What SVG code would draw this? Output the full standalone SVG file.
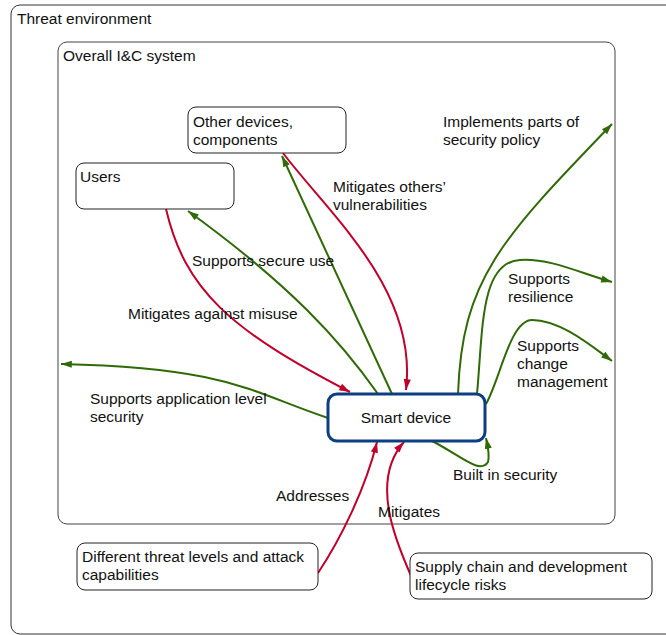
<svg xmlns="http://www.w3.org/2000/svg" width="666" height="635" viewBox="0 0 666 635">
<style>
text{font-family:"Liberation Sans",Arial,sans-serif;font-size:15.5px;fill:#111}
.box{fill:#fff;stroke:#222;stroke-width:1}
.g{fill:none;stroke:#2f6a06;stroke-width:2}
.r{fill:none;stroke:#c0002b;stroke-width:2}
</style>
<defs>
<marker id="ag" viewBox="0 0 10 10" refX="9" refY="5" markerWidth="9" markerHeight="9" markerUnits="userSpaceOnUse" orient="auto" overflow="visible"><path d="M0,1 L12,5 L0,9 z" fill="#2f6a06" transform="translate(-3,0)"/></marker>
<marker id="ar" viewBox="0 0 10 10" refX="9" refY="5" markerWidth="9" markerHeight="9" markerUnits="userSpaceOnUse" orient="auto" overflow="visible"><path d="M0,1 L12,5 L0,9 z" fill="#c0002b" transform="translate(-3,0)"/></marker>
</defs>
<g id="threat-environment">
<rect x="11" y="5" width="680" height="629" rx="9" fill="#fff" stroke="#333" stroke-width="1"/>
<text x="17" y="24">Threat environment</text>
</g>
<g id="overall-ic-system">
<rect x="58" y="42" width="557" height="482" rx="9" fill="none" stroke="#444" stroke-width="1"/>
<text x="63" y="61">Overall I&amp;C system</text>
</g>
<g id="connectors">
<path class="r" d="M283,153 C330,215 418,290 406,390" marker-end="url(#ar)"/>
<path class="g" d="M392,394 L282,156" marker-end="url(#ag)"/>
<path class="g" d="M378,394 C340,340 290,285 188,211" marker-end="url(#ag)"/>
<path class="r" d="M166,209 C185,290 230,330 350,392" marker-end="url(#ar)"/>
<path class="g" d="M328,418 C250,392 230,368 61,364" marker-end="url(#ag)"/>
<path class="g" d="M458,394 C462,280 500,240 612,124" marker-end="url(#ag)"/>
<path class="g" d="M477,394 C483,330 480,262 520,260 C550,258 580,273 612,282" marker-end="url(#ag)"/>
<path class="g" d="M486,404 C500,380 510,320 532,320 C560,320 590,345 612,361" marker-end="url(#ag)"/>
<path class="g" d="M432,441 C460,455 480,475 488,462 C490,455 488,447 486,438" marker-end="url(#ag)"/>
<path class="r" d="M318,573 C340,540 365,490 377,442" marker-end="url(#ar)"/>
<path class="r" d="M412,578 C395,540 370,480 404,442" marker-end="url(#ar)"/>
</g>
<g id="other-devices">
<rect class="box" x="188" y="107" width="158" height="46" rx="8"/>
<text x="193" y="127">Other devices,</text>
<text x="193" y="145">components</text>
</g>
<g id="users">
<rect class="box" x="76" y="163" width="158" height="46" rx="8"/>
<text x="80" y="182">Users</text>
</g>
<g id="smart-device">
<rect x="328" y="394" width="157" height="47" rx="9" fill="#fff" stroke="#0c3f80" stroke-width="3"/>
<text x="406" y="423" text-anchor="middle">Smart device</text>
</g>
<g id="threat-levels">
<rect class="box" x="77" y="543" width="241" height="47" rx="8"/>
<text x="82" y="562">Different threat levels and attack</text>
<text x="82" y="580">capabilities</text>
</g>
<g id="supply-chain">
<rect class="box" x="410" y="553" width="242" height="46" rx="8"/>
<text x="415" y="572">Supply chain and development</text>
<text x="415" y="590">lifecycle risks</text>
</g>
<g id="labels">
<text x="333" y="192">Mitigates others’</text>
<text x="333" y="210">vulnerabilities</text>
<text x="443" y="127">Implements parts of</text>
<text x="443" y="145">security policy</text>
<text x="192" y="266">Supports secure use</text>
<text x="128" y="319">Mitigates against misuse</text>
<text x="508" y="284">Supports</text>
<text x="508" y="302">resilience</text>
<text x="517" y="351">Supports</text>
<text x="517" y="369">change</text>
<text x="517" y="387">management</text>
<text x="90" y="404">Supports application level</text>
<text x="90" y="422">security</text>
<text x="453" y="480">Built in security</text>
<text x="276" y="501">Addresses</text>
<text x="378" y="517">Mitigates</text>
</g>
</svg>
